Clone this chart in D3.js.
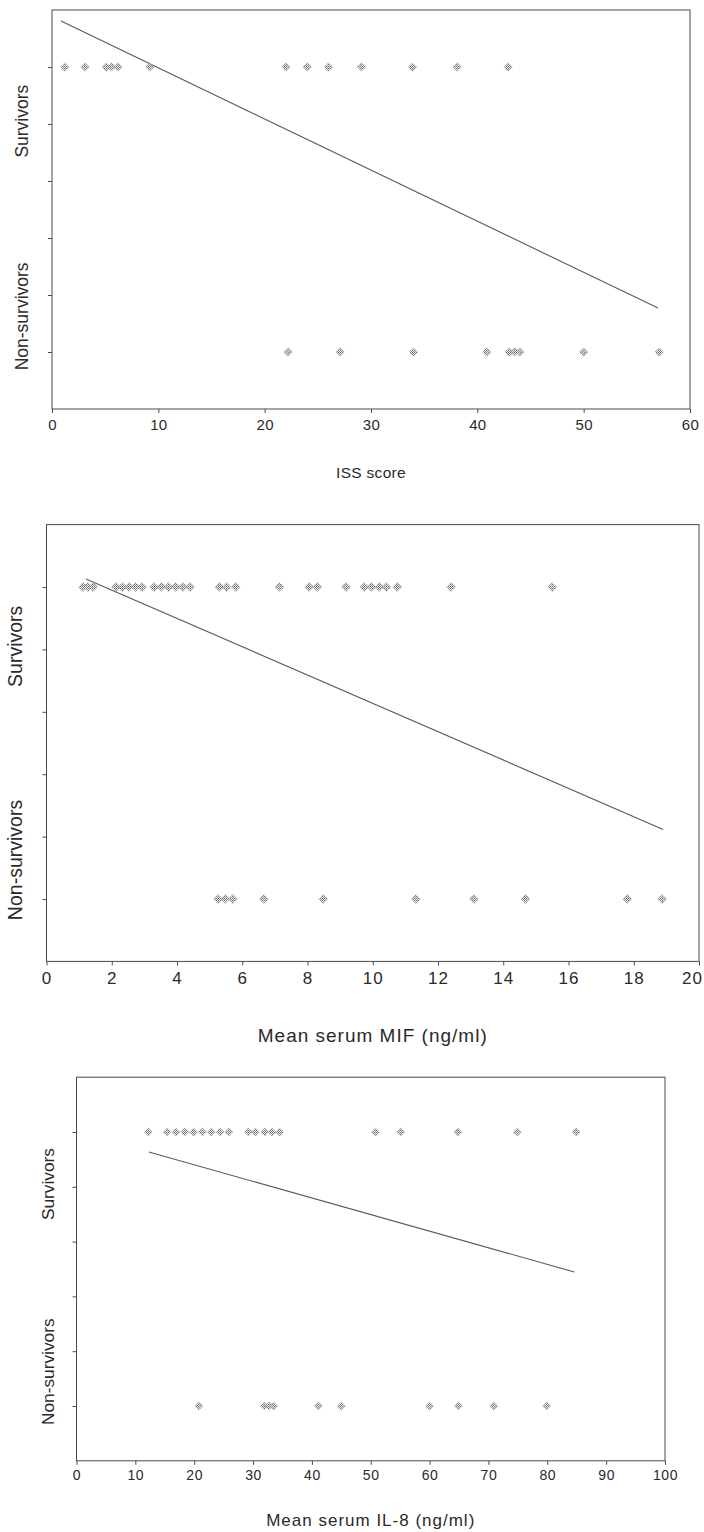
<!DOCTYPE html>
<html><head><meta charset="utf-8">
<script src="https://cdn.jsdelivr.net/npm/d3@7"></script>
<style>
html,body{margin:0;padding:0;background:#fff;}
svg{display:block;font-family:"Liberation Sans",Arial,sans-serif;}
</style>
</head><body>
<script>
// ---------------- DATA ----------------
const outcomeLabels = ["Survivors", "Non-survivors"];
const outcomeCodes = [1, 0];            // Survivors = 1, Non-survivors = 0
const yTickValues = [0, 0.2, 0.4, 0.6, 0.8, 1];

// Panel 1: ISS score
const issTicks = [0, 10, 20, 30, 40, 50, 60];
const issSurvivors = [1.2, 3.1, 5.1, 5.6, 6.2, 9.2, 22, 24, 26, 29.1, 33.9, 38.1, 42.9];
const issNonSurvivors = [22.2, 27.1, 34, 40.9, 43, 43.5, 44, 50, 57.1];
const issLineX = [0.85, 57];
const issLineY = [1.161, 0.154];

// Panel 2: Mean serum MIF (ng/ml)
const mifTicks = [0, 2, 4, 6, 8, 10, 12, 14, 16, 18, 20];
const mifSurvivors = [1.12, 1.27, 1.43, 2.13, 2.33, 2.53, 2.73, 2.93, 3.3, 3.52, 3.74, 3.96, 4.18, 4.4,
  5.3, 5.52, 5.8, 7.14, 8.05, 8.3, 9.18, 9.74, 9.96, 10.2, 10.42, 10.75, 12.4, 15.5];
const mifNonSurvivors = [5.26, 5.48, 5.71, 6.66, 8.48, 11.32, 13.1, 14.68, 17.8, 18.87];
const mifLineX = [1.21, 18.9];
const mifLineY = [1.026, 0.223];

// Panel 3: Mean serum IL-8 (ng/ml)
const il8Ticks = [0, 10, 20, 30, 40, 50, 60, 70, 80, 90, 100];
const il8Survivors = [12.2, 15.4, 16.9, 18.4, 19.9, 21.4, 22.9, 24.4, 25.9, 29.2, 30.4, 32, 33.2, 34.5,
  50.8, 55.1, 64.8, 74.9, 84.9];
const il8NonSurvivors = [20.8, 31.9, 32.7, 33.5, 41.1, 45, 60, 64.9, 70.9, 79.9];
const il8LineX = [12.3, 84.6];
const il8LineY = [0.927, 0.489];

// ---------------- LAYOUT ----------------
const W = 704, H = 1532;
const svg = d3.select("body").append("svg").attr("width", W).attr("height", H);

const defs = svg.append("defs");
const pat = defs.append("pattern").attr("id", "dots")
  .attr("width", 2).attr("height", 2).attr("patternUnits", "userSpaceOnUse");
pat.append("rect").attr("width", 2).attr("height", 2).attr("fill", "#f2f2f2");
pat.append("rect").attr("x", 0).attr("y", 0).attr("width", 1).attr("height", 1).attr("fill", "#6a6a6a");
pat.append("rect").attr("x", 1).attr("y", 1).attr("width", 1).attr("height", 1).attr("fill", "#8a8a8a");

const panels = [
  { title: "ISS score", ticks: issTicks, surv: issSurvivors, non: issNonSurvivors,
    lineX: issLineX, lineY: issLineY,
    left: 52, right: 690, ySurv: 67, yNon: 352,
    tickFont: 15, tickLS: 0.3, tickOff: 16, titleY: 473, titleFont: 15.5, titleLS: 0.3,
    labX: 22, labFont: 17.5, marker: 8.5 },
  { title: "Mean serum MIF (ng/ml)", ticks: mifTicks, surv: mifSurvivors, non: mifNonSurvivors,
    lineX: mifLineX, lineY: mifLineY,
    left: 46.5, right: 699, ySurv: 587, yNon: 899,
    tickFont: 17, tickLS: 1, tickOff: 17, titleY: 1035, titleFont: 19, titleLS: 1,
    labX: 15, labFont: 19.5, marker: 9 },
  { title: "Mean serum IL-8 (ng/ml)", ticks: il8Ticks, surv: il8Survivors, non: il8NonSurvivors,
    lineX: il8LineX, lineY: il8LineY,
    left: 76.5, right: 665, ySurv: 1132, yNon: 1406,
    tickFont: 14, tickLS: 0.6, tickOff: 14, titleY: 1520, titleFont: 17, titleLS: 1,
    labX: 48, labFont: 17.3, marker: 8 }
];

const ink = "#2a2a2a";
const frameCol = "#4a4a4a";

panels.forEach(p => {
  const x = d3.scaleLinear().domain([p.ticks[0], p.ticks[p.ticks.length - 1]]).range([p.left, p.right]);
  const y = d3.scaleLinear().domain([0, 1]).range([p.yNon, p.ySurv]);
  const top = y(1.2), bottom = y(-0.2);
  const g = svg.append("g");

  // frame
  g.append("rect").attr("x", p.left).attr("y", top)
    .attr("width", p.right - p.left).attr("height", bottom - top)
    .attr("fill", "none").attr("stroke", frameCol).attr("stroke-width", 1);

  // x axis
  const xa = g.append("g").attr("transform", `translate(0,${bottom})`)
    .call(d3.axisBottom(x).tickValues(p.ticks).tickSize(4).tickFormat(d3.format("d")));
  xa.select(".domain").remove();
  xa.selectAll("line").attr("stroke", frameCol);
  xa.selectAll("text").attr("y", p.tickOff).attr("dy", "0.35em")
    .attr("fill", ink).style("font-size", p.tickFont + "px").style("letter-spacing", p.tickLS + "px");
  // keep the last label inside the page edge
  xa.selectAll("text").filter(function () {
    const b = this.getBBox();
    const ctm = this.getCTM();
    return ctm && (ctm.e + b.x + b.width) > W - 1;
  }).each(function () {
    const b = this.getBBox();
    const ctm = this.getCTM();
    const over = ctm.e + b.x + b.width - (W - 1);
    d3.select(this).attr("dx", -over);
  });

  // y axis ticks
  const ya = g.append("g").attr("transform", `translate(${p.left},0)`)
    .call(d3.axisLeft(y).tickValues(yTickValues).tickSize(4).tickFormat(""));
  ya.select(".domain").remove();
  ya.selectAll("line").attr("stroke", frameCol);

  // x title
  g.append("text").attr("x", (p.left + p.right) / 2).attr("y", p.titleY).attr("dy", "0.35em")
    .attr("text-anchor", "middle").attr("fill", ink)
    .style("font-size", p.titleFont + "px").style("letter-spacing", p.titleLS + "px")
    .text(p.title);

  // y category labels
  const labPos = [0.81, 0.125];
  outcomeLabels.forEach((lab, i) => {
    g.append("text")
      .attr("transform", `translate(${p.labX},${y(labPos[i])}) rotate(-90)`)
      .attr("dy", "0.35em").attr("text-anchor", "middle").attr("fill", ink)
      .style("font-size", p.labFont + "px").text(lab);
  });

  // regression line
  const lineData = p.lineX.map((v, i) => [v, p.lineY[i]]);
  g.append("path").datum(lineData)
    .attr("d", d3.line().x(d => x(d[0])).y(d => y(d[1])))
    .attr("fill", "none").attr("stroke", "#5a5a5a").attr("stroke-width", 1.1);

  // points
  const pts = p.surv.map(v => ({ v, o: outcomeCodes[0] }))
    .concat(p.non.map(v => ({ v, o: outcomeCodes[1] })));
  const s = p.marker / 2;
  g.selectAll("path.pt").data(pts).join("path").attr("class", "pt")
    .attr("d", d => {
      const cx = x(d.v), cy = y(d.o);
      return `M${cx},${cy - s}L${cx + s},${cy}L${cx},${cy + s}L${cx - s},${cy}Z`;
    })
    .attr("fill", "url(#dots)").attr("stroke", "#8c8c8c").attr("stroke-width", 0.6)
    .attr("stroke-dasharray", "1,1");
});
</script>
</body></html>
